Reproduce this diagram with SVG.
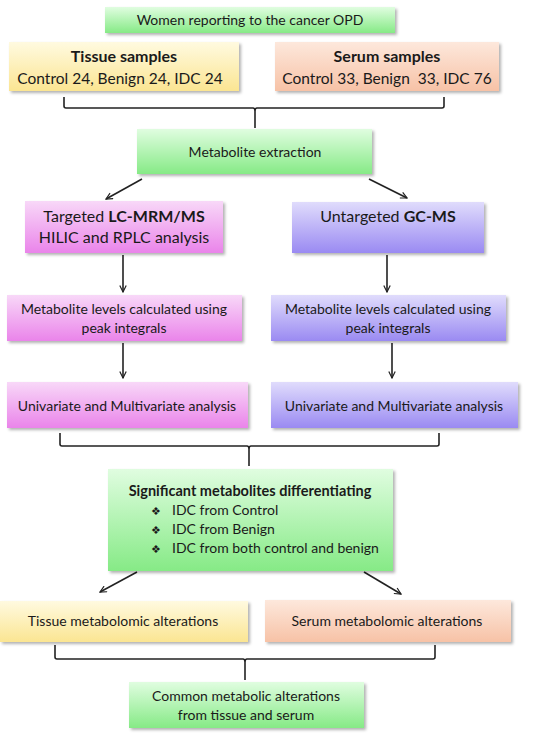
<svg xmlns="http://www.w3.org/2000/svg" width="552" height="739" viewBox="0 0 552 739">
<style>
text{font-family:Lato,"Liberation Sans",sans-serif;fill:#1a1a1a;text-anchor:middle}
.s14{font-size:14px}
.s15{font-size:15.5px}
.s16{font-size:16px}
.b{font-weight:bold}
.box{filter:url(#sh)}
.ln{fill:none;stroke:#222;stroke-width:1.6}
.bul{text-anchor:start;font-family:"DejaVu Sans",sans-serif;font-size:11px}
.st{text-anchor:start}
</style>
<defs>
<filter id="sh" x="-10%" y="-10%" width="120%" height="130%">
<feDropShadow dx="2" dy="2" stdDeviation="1.5" flood-color="#000" flood-opacity="0.3"/>
</filter>
<linearGradient id="gG" x1="0" y1="0" x2="0" y2="1"><stop offset="0" stop-color="#e0fde0"/><stop offset="1" stop-color="#86ea86"/></linearGradient>
<linearGradient id="gY" x1="0" y1="0" x2="0" y2="1"><stop offset="0" stop-color="#fffae0"/><stop offset="1" stop-color="#fbe592"/></linearGradient>
<linearGradient id="gO" x1="0" y1="0" x2="0" y2="1"><stop offset="0" stop-color="#fde8dc"/><stop offset="1" stop-color="#f7c2a6"/></linearGradient>
<linearGradient id="gP" x1="0" y1="0" x2="0" y2="1"><stop offset="0" stop-color="#f8d8f8"/><stop offset="1" stop-color="#ea84ea"/></linearGradient>
<linearGradient id="gV" x1="0" y1="0" x2="0" y2="1"><stop offset="0" stop-color="#e0dcfc"/><stop offset="1" stop-color="#9a8af2"/></linearGradient>
<marker id="ar" viewBox="0 0 10 10" refX="9" refY="5" markerWidth="8" markerHeight="8" orient="auto" markerUnits="userSpaceOnUse"><path d="M1,1 L9,5 L1,9" fill="none" stroke="#222" stroke-width="1.5"/></marker>
</defs>
<rect width="552" height="739" fill="#fff"/>

<g id="connectors">
<path class="ln" d="M64,97 V106 Q64,108 66,108 H253 Q255,108 255,111 V128 M255,111 Q255,108 257,108 H442 Q444,108 444,106 V97"/>
<line class="ln" x1="142" y1="179" x2="106" y2="199" marker-end="url(#ar)"/>
<line class="ln" x1="369" y1="179" x2="407" y2="198" marker-end="url(#ar)"/>
<line class="ln" x1="123" y1="255" x2="123" y2="292" marker-end="url(#ar)"/>
<line class="ln" x1="387" y1="255" x2="387" y2="292" marker-end="url(#ar)"/>
<line class="ln" x1="123" y1="343" x2="123" y2="378" marker-end="url(#ar)"/>
<line class="ln" x1="392" y1="343" x2="392" y2="378" marker-end="url(#ar)"/>
<path class="ln" d="M60,433 V444 Q60,446 62,446 H247 Q249,446 249,449 V466 M249,449 Q249,446 251,446 H437 Q439,446 439,444 V433"/>
<line class="ln" x1="137" y1="572" x2="100" y2="592" marker-end="url(#ar)"/>
<line class="ln" x1="364" y1="572" x2="401" y2="594" marker-end="url(#ar)"/>
<path class="ln" d="M55,645 V657 Q55,659 57,659 H243 Q245,659 245,662 V680 M245,662 Q245,659 247,659 H433 Q435,659 435,657 V645"/>
</g>

<g id="n-women">
<rect class="box" x="105" y="7" width="290" height="26" fill="url(#gG)"/>
<text class="s14" x="250" y="25">Women reporting to the cancer OPD</text>
</g>
<g id="n-tissue">
<rect class="box" x="9" y="42" width="230" height="49" fill="url(#gY)"/>
<text class="s16 b" x="124" y="62">Tissue samples</text>
<text class="s15" x="120" y="84">Control 24, Benign 24, IDC 24</text>
</g>
<g id="n-serum">
<rect class="box" x="275" y="42" width="224" height="49" fill="url(#gO)"/>
<text class="s16 b" x="387" y="62">Serum samples</text>
<text class="s15" x="387" y="84" xml:space="preserve">Control 33, Benign  33, IDC 76</text>
</g>
<g id="n-extraction">
<rect class="box" x="137" y="129" width="235" height="45" fill="url(#gG)"/>
<text class="s14" x="255" y="157">Metabolite extraction</text>
</g>
<g id="n-targeted">
<rect class="box" x="25" y="201" width="198" height="52" fill="url(#gP)"/>
<text class="s16" x="124" y="222">Targeted <tspan class="b">LC-MRM/MS</tspan></text>
<text class="s16" x="124" y="243">HILIC and RPLC analysis</text>
</g>
<g id="n-untargeted">
<rect class="box" x="292" y="202" width="192" height="51" fill="url(#gV)"/>
<text class="s16" x="388" y="222">Untargeted <tspan class="b">GC-MS</tspan></text>
</g>
<g id="n-levels-l">
<rect class="box" x="7" y="295" width="235" height="46" fill="url(#gP)"/>
<text class="s14" x="124" y="314">Metabolite levels calculated using</text>
<text class="s14" x="124" y="333">peak integrals</text>
</g>
<g id="n-levels-r">
<rect class="box" x="271" y="295" width="235" height="46" fill="url(#gV)"/>
<text class="s14" x="388" y="314">Metabolite levels calculated using</text>
<text class="s14" x="388" y="333">peak integrals</text>
</g>
<g id="n-uni-l">
<rect class="box" x="7" y="382" width="241" height="46" fill="url(#gP)"/>
<text class="s14" x="127" y="411">Univariate and Multivariate analysis</text>
</g>
<g id="n-uni-r">
<rect class="box" x="271" y="382" width="247" height="46" fill="url(#gV)"/>
<text class="s14" x="394" y="411">Univariate and Multivariate analysis</text>
</g>
<g id="n-significant">
<rect class="box" x="108" y="469" width="285" height="102" fill="url(#gG)"/>
<text class="b" x="250" y="496" style="font-size:14.5px">Significant metabolites differentiating</text>
<text class="bul" x="151" y="515">❖</text>
<text class="s14 st" x="172" y="515">IDC from Control</text>
<text class="bul" x="151" y="534">❖</text>
<text class="s14 st" x="172" y="534">IDC from Benign</text>
<text class="bul" x="151" y="553">❖</text>
<text class="s14 st" x="172" y="553">IDC from both control and benign</text>
</g>
<g id="n-tissue-alt">
<rect class="box" x="0" y="601" width="248" height="41" fill="url(#gY)"/>
<text class="s14" x="123" y="626">Tissue metabolomic alterations</text>
</g>
<g id="n-serum-alt">
<rect class="box" x="265" y="600" width="246" height="42" fill="url(#gO)"/>
<text class="s14" x="387" y="626">Serum metabolomic alterations</text>
</g>
<g id="n-common">
<rect class="box" x="129" y="682" width="235" height="46" fill="url(#gG)"/>
<text class="s14" x="246" y="701">Common metabolic alterations</text>
<text class="s14" x="246" y="720">from tissue and serum</text>
</g>
</svg>
